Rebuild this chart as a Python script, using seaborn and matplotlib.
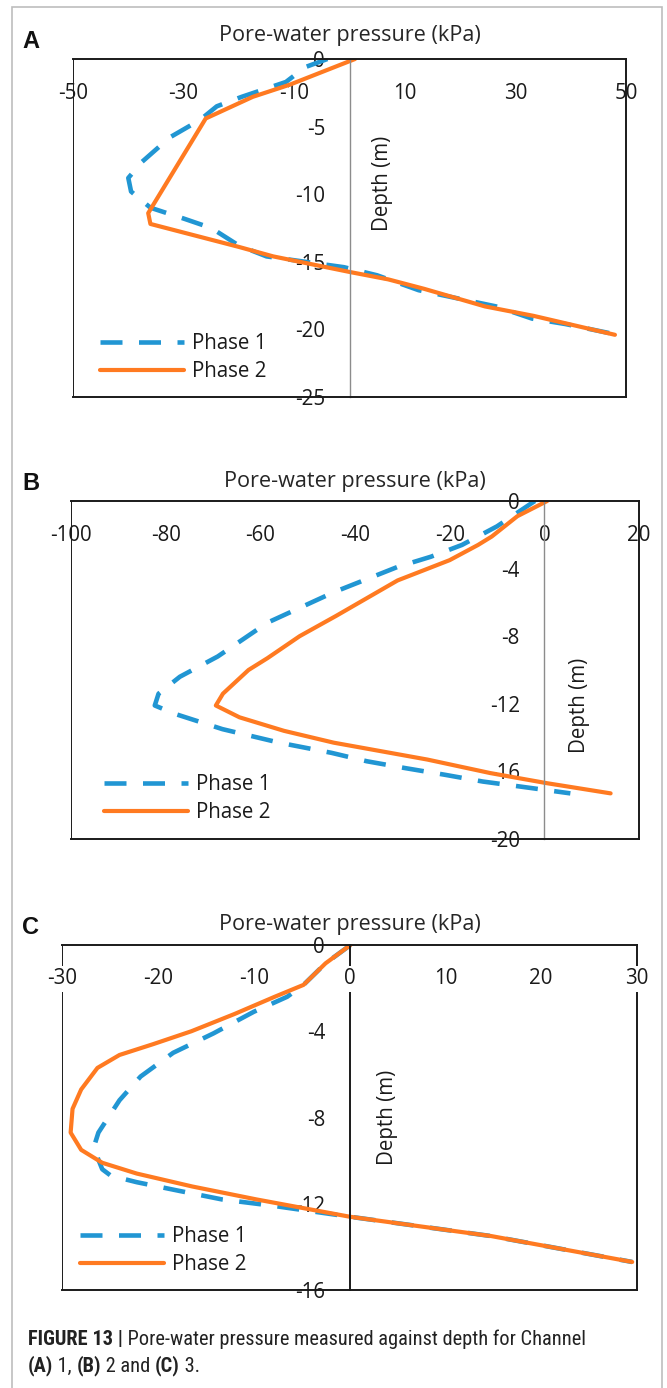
import matplotlib
matplotlib.use("Agg")
import matplotlib.pyplot as plt
import numpy as np
import pandas as pd
import seaborn as sns
from matplotlib import font_manager
from matplotlib.font_manager import FontProperties
from matplotlib.offsetbox import TextArea, HPacker, AnchoredOffsetbox
from matplotlib.patches import Rectangle

# ---------------- data ----------------
PHASES = ["Phase 1", "Phase 2"]
TITLE = "Pore-water pressure (kPa)"
YLABEL = "Depth (m)"

# Channel 1 (panel A)
A_P1_KPA = [-4, -8, -11.5, -19.5, -24, -27, -32.5, -37.5, -40, -39.5, -36, -30, -25,
            -20, -15, -8, -1, 5, 12.5, 19.5, 26.5, 33, 39, 48.5]
A_P1_DEPTH = [0, -0.6, -1.7, -2.8, -3.5, -4.5, -5.8, -7.6, -8.8, -9.8, -11.0, -11.8, -12.5,
              -13.8, -14.6, -15.0, -15.4, -16.0, -17.1, -17.7, -18.3, -19.2, -19.6, -20.4]
A_P2_KPA = [1, -10.8, -17.5, -26, -36.4, -36, -20, -13.8, 0, 7, 13.5, 24.5, 33.3, 48]
A_P2_DEPTH = [0, -1.9, -2.8, -4.4, -11.4, -12.2, -13.9, -14.6, -15.75, -16.3, -17.0, -18.3, -19.0, -20.4]
A_XTICKS = [-50, -30, -10, 10, 30, 50]
A_YTICKS = [0, -5, -10, -15, -20, -25]

# Channel 2 (panel B)
B_P1_KPA = [-2, -10, -17.4, -24, -31, -44.5, -58.5, -69, -77, -81.5, -82.3, -78, -68, -56,
            -45, -37.5, -29.5, -21, -13, -5, 5.5]
B_P1_DEPTH = [0, -1.5, -2.6, -3.3, -3.9, -5.4, -7.2, -9.2, -10.4, -11.4, -12.1, -12.6, -13.5, -14.3,
              -14.9, -15.4, -15.8, -16.2, -16.6, -16.9, -17.3]
B_P2_KPA = [0.6, -5.7, -11.1, -14, -20, -31, -44, -51.7, -58.5, -62.5, -67.9, -69.4, -64.4,
            -55, -44.5, -24.7, -11.4, 0.6, 14]
B_P2_DEPTH = [0, -0.9, -2.1, -2.6, -3.5, -4.7, -6.8, -8.0, -9.3, -10.0, -11.4, -12.1, -12.8,
              -13.6, -14.3, -15.3, -16.1, -16.7, -17.3]
B_XTICKS = [-100, -80, -60, -40, -20, 0, 20]
B_YTICKS = [0, -4, -8, -12, -16, -20]

# Channel 3 (panel C)
C_P1_KPA = [0.1, -2.5, -4.8, -6.5, -10, -14.2, -18.4, -21.8, -24, -26.2, -26.7, -25.8, -24.9,
            -22.2, -17.8, -13.3, -7.9, 0, 14.8, 29.5]
C_P1_DEPTH = [0, -0.85, -1.85, -2.4, -3.1, -4.1, -5.0, -6.1, -7.2, -8.7, -9.4, -10.4, -10.7,
              -11.0, -11.4, -11.8, -12.1, -12.6, -13.5, -14.7]
C_P2_KPA = [0.1, -2.5, -4.8, -7.8, -12, -16.5, -20.5, -24, -26.3, -28, -28.9, -29.1, -28,
            -25.8, -22.2, -16.4, -9.7, 0, 14.8, 29.5]
C_P2_DEPTH = [0, -0.85, -1.85, -2.4, -3.2, -4.0, -4.6, -5.1, -5.7, -6.7, -7.6, -8.7, -9.5,
              -10.1, -10.6, -11.2, -11.8, -12.6, -13.5, -14.7]
C_XTICKS = [-30, -20, -10, 0, 10, 20, 30]
C_YTICKS = [0, -4, -8, -12, -16]

CAPTION_L1 = [("FIGURE 13 |", "bold"), (" Pore-water pressure measured against depth for Channel", "normal")]
CAPTION_L2 = [("(A)", "bold"), (" 1, ", "normal"), ("(B)", "bold"), (" 2 and ", "normal"),
              ("(C)", "bold"), (" 3.", "normal")]

# ---------------- style ----------------
BLUE = "#2196D3"
ORANGE = "#FF7A21"
PALETTE = {"Phase 1": BLUE, "Phase 2": ORANGE}
DASHES = {"Phase 1": (4.8, 3.6), "Phase 2": ""}
TXT = "#1a1a1a"

sns.set_theme(style="white")
plt.rcParams["font.family"] = ["Open Sans", "DejaVu Sans"]
plt.rcParams["axes.titley"] = 1.0

W, H, DPI = 667, 1388, 100
PX = 72.0 / DPI  # points per pixel
FS = 14.8
TITLE_FS = 15.6

fig = plt.figure(figsize=(W / DPI, H / DPI), dpi=DPI)
fig.patch.set_facecolor("white")

# outer light-grey frame
fig.patches.append(Rectangle((12 / W, -0.02), (662 - 12) / W, 1 - 7 / H + 0.02,
                             transform=fig.transFigure, fill=False,
                             edgecolor="#bdbdbd", linewidth=1.2))

panels = [
    dict(letter="A", letter_xy=(30.5, 42), box=(73, 59, 626, 397),
         xlim=(-50, 50), ylim=(-25, 0), xticks=A_XTICKS, yticks=A_YTICKS,
         p1=(A_P1_KPA, A_P1_DEPTH), p2=(A_P2_KPA, A_P2_DEPTH),
         zero_color="#8c8c8c", zero_lw=1.0, title_pad=18 * PX,
         ylabel_xy=(0.56, 0.633), legend_xy=(0.049, 0.190), mask=False),
    dict(letter="B", letter_xy=(31, 484), box=(71, 501, 639, 839),
         xlim=(-100, 20), ylim=(-20, 0), xticks=B_XTICKS, yticks=B_YTICKS,
         p1=(B_P1_KPA, B_P1_DEPTH), p2=(B_P2_KPA, B_P2_DEPTH),
         zero_color="#8c8c8c", zero_lw=1.0, title_pad=14 * PX,
         ylabel_xy=(0.895, 0.396), legend_xy=(0.058, 0.193), mask=False),
    dict(letter="C", letter_xy=(30.5, 927), box=(62, 945, 637, 1290),
         xlim=(-30, 30), ylim=(-16, 0), xticks=C_XTICKS, yticks=C_YTICKS,
         p1=(C_P1_KPA, C_P1_DEPTH), p2=(C_P2_KPA, C_P2_DEPTH),
         zero_color="#1a1a1a", zero_lw=1.4, title_pad=15 * PX,
         ylabel_xy=(0.566, 0.499), legend_xy=(0.031, 0.186), mask=True),
]

for P in panels:
    l, t, r, b = P["box"]
    ax = fig.add_axes([l / W, 1 - b / H, (r - l) / W, (b - t) / H])
    frames = []
    for name, (xs, ds) in zip(PHASES, [P["p1"], P["p2"]]):
        frames.append(pd.DataFrame({"Pressure": xs, "Depth": ds, "Phase": name}))
    df = pd.concat(frames, ignore_index=True)
    sns.lineplot(data=df, x="Pressure", y="Depth", hue="Phase", style="Phase",
                 palette=PALETTE, dashes=DASHES, sort=False, estimator=None,
                 linewidth=3.0, legend=False, ax=ax)
    ax.lines[0].set_linewidth(3.3)
    for ln in ax.lines[:2]:
        ln.set_solid_capstyle("round")
        ln.set_solid_joinstyle("round")
    handles = list(ax.lines[:2])

    ax.set_xlim(*P["xlim"])
    ax.set_ylim(*P["ylim"])
    ax.set_facecolor("white")

    for s in ["top", "right", "bottom"]:
        ax.spines[s].set_visible(True)
        ax.spines[s].set_color("#1a1a1a")
        ax.spines[s].set_linewidth(1.4)
    ax.spines["left"].set_position(("data", 0))
    ax.spines["left"].set_color(P["zero_color"])
    ax.spines["left"].set_linewidth(P["zero_lw"])
    ax.axvline(P["xlim"][0], color="#1a1a1a", linewidth=1.4)

    ax.set_xticks(P["xticks"])
    ax.set_xticklabels([f"{v:g}" for v in P["xticks"]])
    ax.set_yticks(P["yticks"])
    ax.set_yticklabels([f"{v:g}" for v in P["yticks"]])
    ax.xaxis.set_ticks_position("top")
    ax.tick_params(axis="x", length=0, pad=-34 * PX, labelsize=FS, labelcolor=TXT)
    ax.tick_params(axis="y", length=0, pad=24.5 * PX, labelsize=FS, labelcolor=TXT)
    for tk in ax.xaxis.get_major_ticks():
        tk.label2.set_verticalalignment("center")
        if P["mask"]:
            tk.label2.set_bbox(dict(facecolor="white", edgecolor="none", pad=1.5))
    if P["mask"]:
        ax.xaxis.set_zorder(3)

    ax.set_xlabel("")
    ax.set_ylabel(YLABEL, fontsize=FS, color=TXT, ha="center", va="center")
    ax.yaxis.set_label_coords(*P["ylabel_xy"])
    ax.set_title(TITLE, fontsize=TITLE_FS, color="#262626", pad=P["title_pad"])

    ax.legend(handles=handles, labels=PHASES, loc="upper left",
              bbox_to_anchor=P["legend_xy"], frameon=False, fontsize=FS,
              handlelength=4.1, handletextpad=0.38, labelspacing=0.36,
              borderpad=0, borderaxespad=0, labelcolor=TXT)

    fig.text(P["letter_xy"][0] / W, 1 - P["letter_xy"][1] / H, P["letter"],
             fontsize=17, fontweight="bold", family=["Liberation Sans", "DejaVu Sans"],
             ha="center", va="center", color="#111111")

# ---------------- caption ----------------
names = {f.name for f in font_manager.fontManager.ttflist}
cap_family = "DejaVu Sans"
for cand in ["Liberation Sans Narrow", "Roboto Condensed", "Liberation Sans"]:
    if cand in names:
        cap_family = cand
        break

cap_ax = fig.add_axes([0, 0, 1, 1], zorder=-1)
cap_ax.set_axis_off()

renderer = fig.canvas.get_renderer()
trial = 14.0
w_px = 0.0
for s, wgt in CAPTION_L1:
    fp = FontProperties(family=cap_family, size=trial, weight=wgt)
    w_px += renderer.get_text_width_height_descent(s, fp, ismath=False)[0]
cap_size = trial * (560.0 / w_px)


def make_line(parts, size):
    kids = [TextArea(s, textprops=dict(fontfamily=cap_family, fontsize=size,
                                       fontweight=w, color="#222222")) for s, w in parts]
    return HPacker(children=kids, pad=0, sep=0, align="baseline")


for parts, yc in [(CAPTION_L1, 1339), (CAPTION_L2, 1366)]:
    box = AnchoredOffsetbox(loc="center left", child=make_line(parts, cap_size),
                            bbox_to_anchor=(28 / W, 1 - yc / H),
                            bbox_transform=fig.transFigure, frameon=False,
                            pad=0, borderpad=0)
    cap_ax.add_artist(box)

fig.savefig("out.png", dpi=DPI, facecolor="white")
